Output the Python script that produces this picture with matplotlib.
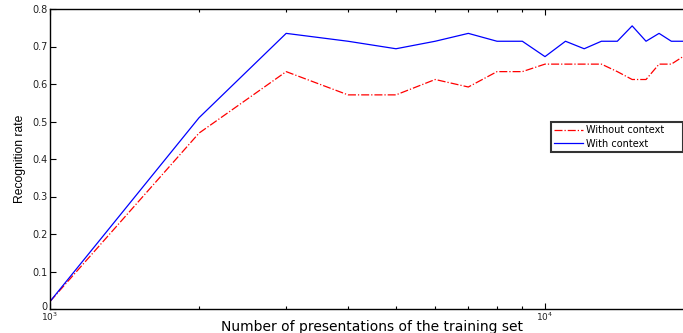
import matplotlib
matplotlib.use("Agg")
import matplotlib.pyplot as plt
import matplotlib.transforms as mtransforms
from matplotlib.ticker import FixedLocator, NullFormatter

x_vals = [1000, 2000, 3000, 4000, 5000, 6000, 7000, 8000, 9000, 10000,
          11000, 12000, 13000, 14000, 15000, 16000, 17000, 18000, 19000]
without_context = [0.02, 0.469, 0.633, 0.571, 0.571, 0.612, 0.592, 0.633, 0.633, 0.653,
                   0.653, 0.653, 0.653, 0.633, 0.612, 0.612, 0.653, 0.653, 0.673]
with_context = [0.02, 0.51, 0.735, 0.714, 0.694, 0.714, 0.735, 0.714, 0.714, 0.673,
                0.714, 0.694, 0.714, 0.714, 0.755, 0.714, 0.735, 0.714, 0.714]
labels = ["Without context", "With context"]
y_ticks = [0, 0.1, 0.2, 0.3, 0.4, 0.5, 0.6, 0.7, 0.8]
y_ticklabels = ["0", "0.1", "0.2", "0.3", "0.4", "0.5", "0.6", "0.7", "0.8"]

W, H = 683, 333
fig = plt.figure(figsize=(W / 100, H / 100), dpi=100)
ax = fig.add_axes([50 / W, 24 / H, 644 / W, 300 / H])

ax.plot(x_vals, without_context, color="red", linestyle="-.", linewidth=0.9, label=labels[0])
ax.plot(x_vals, with_context, color="blue", linestyle="-", linewidth=0.9, label=labels[1])

ax.set_xscale("log")
ax.set_xlim(1000, 20000)
ax.set_ylim(0, 0.8)
ax.set_yticks(y_ticks)
ax.set_yticklabels(y_ticklabels)
ax.set_xticks([1000, 10000])
ax.set_xticklabels([r"$10^3$", r"$10^4$"])
ax.xaxis.set_minor_locator(FixedLocator([2000, 3000, 4000, 5000, 6000, 7000, 8000, 9000]))
ax.xaxis.set_minor_formatter(NullFormatter())

ax.tick_params(axis="both", which="both", direction="in", top=True, right=False,
               colors="black", labelcolor="#222222")
ax.tick_params(axis="y", labelsize=7, pad=1.5)
ax.tick_params(axis="x", labelsize=6.5, pad=1.5)
ax.tick_params(axis="both", which="major", length=4, width=0.8)
ax.tick_params(axis="x", which="minor", length=2.5, width=0.8)
for s in ax.spines.values():
    s.set_linewidth(1.0)

# nudge the "0" label up a little so it clears the 10^3 label
zero_lbl = ax.get_yticklabels()[0]
zero_lbl.set_transform(zero_lbl.get_transform() +
                       mtransforms.ScaledTranslation(0, 2.5 / 72, fig.dpi_scale_trans))

ax.set_xlabel("Number of presentations of the training set", fontsize=10,
              family="DejaVu Sans", labelpad=-2.8)
ax.set_ylabel("Recognition rate", fontsize=8.7, family="Liberation Sans", labelpad=5)

leg = fig.legend(loc="upper left", bbox_to_anchor=(551 / W, 1 - 153 / H, 132 / W, 31 / H),
                 bbox_transform=fig.transFigure, mode="expand", fontsize=7, frameon=True,
                 fancybox=False, borderaxespad=0, handlelength=3.0, handletextpad=0.3,
                 labelspacing=0.38, borderpad=0.3)
leg.get_frame().set_edgecolor("black")
leg.get_frame().set_linewidth(1.5)

fig.savefig("out.png", dpi=100)
